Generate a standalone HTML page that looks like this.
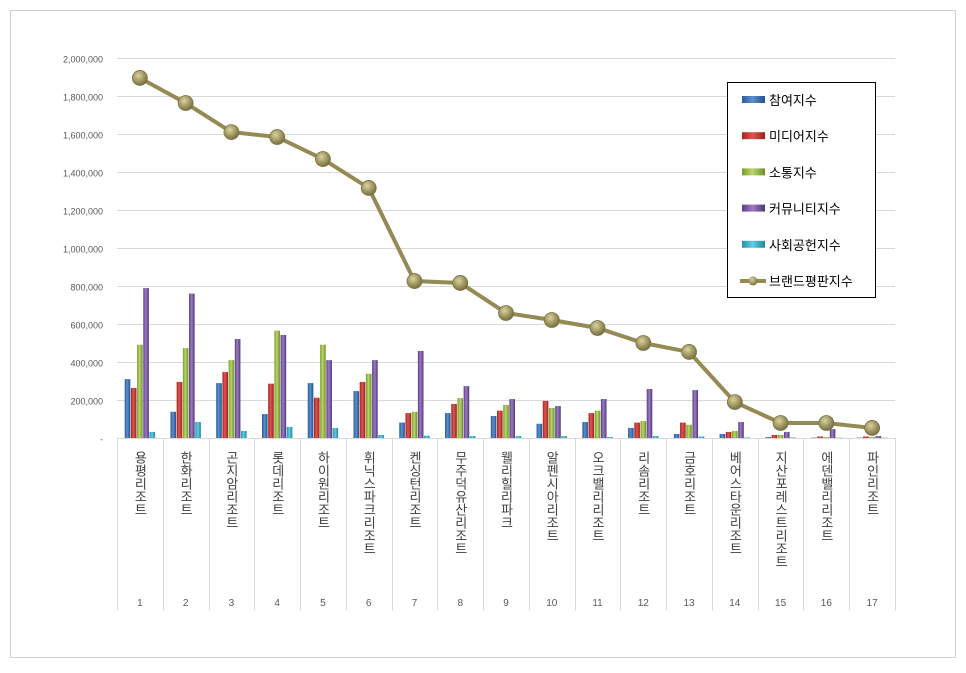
<!DOCTYPE html>
<html><head><meta charset="utf-8"><style>
body{margin:0;background:#fff;font-family:"Liberation Sans","Noto Sans CJK KR",sans-serif;}
</style></head><body>
<svg id="chart" width="966" height="668" xmlns="http://www.w3.org/2000/svg" font-family="Liberation Sans, Noto Sans CJK KR, sans-serif">
<defs>
<linearGradient id="gb" x1="0" x2="1"><stop offset="0" stop-color="#2a5a9a"/><stop offset=".45" stop-color="#5b8fd0"/><stop offset="1" stop-color="#23518c"/></linearGradient>
<linearGradient id="gr" x1="0" x2="1"><stop offset="0" stop-color="#a32420"/><stop offset=".45" stop-color="#e05450"/><stop offset="1" stop-color="#9a201c"/></linearGradient>
<linearGradient id="gg" x1="0" x2="1"><stop offset="0" stop-color="#7a9a2e"/><stop offset=".45" stop-color="#b9d66a"/><stop offset="1" stop-color="#6f8e28"/></linearGradient>
<linearGradient id="gp" x1="0" x2="1"><stop offset="0" stop-color="#5a3d82"/><stop offset=".45" stop-color="#9a7cc4"/><stop offset="1" stop-color="#513676"/></linearGradient>
<linearGradient id="gc" x1="0" x2="1"><stop offset="0" stop-color="#2790a8"/><stop offset=".45" stop-color="#5fcde2"/><stop offset="1" stop-color="#22869c"/></linearGradient>
<radialGradient id="gm" cx=".4" cy=".35" r=".7"><stop offset="0" stop-color="#d9d2a0"/><stop offset=".6" stop-color="#9b935c"/><stop offset="1" stop-color="#6f6a3c"/></radialGradient>
</defs>
<rect x="10.5" y="10.5" width="945" height="647" fill="#fff" stroke="#d0d0d0"/>
<g id="grid"></g><g id="bars"></g><g id="line"></g><g id="xaxis"></g>
<g>
<rect x="727.5" y="82.5" width="148" height="215" fill="#fff" stroke="#000"/>
<g id="legend"></g>
</g>
</svg>
<script>
const categories=["용평리조트","한화리조트","곤지암리조트","롯데리조트","하이원리조트","휘닉스파크리조트","켄싱턴리조트","무주덕유산리조트","웰리힐리파크","알펜시아리조트","오크밸리리조트","리솜리조트","금호리조트","베어스타운리조트","지산포레스트리조트","에덴밸리리조트","파인리조트"];
const ranks=[1,2,3,4,5,6,7,8,9,10,11,12,13,14,15,16,17];
const participation=[310000,138000,289000,126000,289000,247000,81000,131000,116000,75000,84000,53000,21000,21000,5000,2000,2000];
const media=[263000,295000,347000,286000,212000,295000,131000,179000,144000,195000,131000,81000,81000,32000,16000,8000,8000];
const communication=[491000,473000,410000,565000,491000,338000,138000,210000,174000,158000,144000,89000,70000,37000,16000,5000,5000];
const community=[789000,760000,521000,542000,410000,410000,458000,273000,205000,168000,205000,258000,252000,84000,32000,47000,10000];
const social=[32000,84000,37000,58000,53000,16000,12000,10000,10000,10000,5000,10000,8000,3000,3000,2000,2000];
const brand=[1895000,1763000,1610000,1584000,1468000,1316000,826000,816000,658000,621000,579000,500000,453000,189000,79000,79000,53000];
const yTicks=[0,200000,400000,600000,800000,1000000,1200000,1400000,1600000,1800000,2000000];
const seriesNames=["참여지수","미디어지수","소통지수","커뮤니티지수","사회공헌지수","브랜드평판지수"];
const NS="http://www.w3.org/2000/svg";
const x0=117,x1=895,y0=438,yTop=58;
const cw=(x1-x0)/categories.length;
const ys=v=>y0-v/2000000*(y0-yTop);
const xc=i=>x0+cw*(i+0.5);
function mk(t,a,p){const e=document.createElementNS(NS,t);for(const k in a)e.setAttribute(k,a[k]);p.appendChild(e);return e;}
const grid=document.getElementById('grid');
yTicks.forEach(v=>{
  const y=Math.round(ys(v))+.5;
  if(v>0){const l=mk('line',{x1:x0,x2:x1,y1:y,y2:y,stroke:'#d9d9d9'},grid);
  
  }
  const t=mk('text',{x:103,y:y+4,'text-anchor':'end','font-size':9,fill:'#595959'},grid);
  t.textContent=v===0?'-':v.toLocaleString('en-US');
  
  
});
const xa=document.getElementById('xaxis');
mk('line',{x1:x0,x2:x1,y1:y0+.5,y2:y0+.5,stroke:'#d9d9d9'},xa);
for(let i=0;i<=categories.length;i++){const x=Math.round(x0+cw*i)+.5;mk('line',{x1:x,x2:x,y1:y0,y2:610,stroke:'#d9d9d9'},xa);}
categories.forEach((c,i)=>{
  const t=mk('text',{x:xc(i),y:451,'font-size':13,fill:'#404040',style:'writing-mode:vertical-rl;text-orientation:upright'},xa);
  t.textContent=c;
  
  
  const n=mk('text',{x:xc(i),y:606,'text-anchor':'middle','font-size':10,fill:'#595959'},xa);
  n.textContent=ranks[i];
  
  
});
const series=[participation,media,communication,community,social];
const fills=['url(#gb)','url(#gr)','url(#gg)','url(#gp)','url(#gc)'];
const bw=6.2,bg=document.getElementById('bars');
series.forEach((s,si)=>{s.forEach((v,i)=>{
  const x=xc(i)-2.5*bw+si*bw+0.3;
  const r=mk('rect',{x:x,y:ys(v),width:bw-0.6,height:Math.max(0.5,y0-ys(v)),fill:fills[si]},bg);
  
  
});});
const lg=document.getElementById('line');
const p=mk('polyline',{points:brand.map((v,i)=>xc(i)+','+ys(v)).join(' '),fill:'none',stroke:'#948a54','stroke-width':4},lg);


brand.forEach((v,i)=>{const c=mk('circle',{cx:xc(i),cy:ys(v),r:7.5,fill:'url(#gm)',stroke:'#7a7244','stroke-width':.8},lg);

});
const leg=document.getElementById('legend');
seriesNames.forEach((n,i)=>{
  const y=100+i*36.2;
  if(i<5){mk('rect',{x:742,y:y-4,width:23,height:7,fill:fills[i]},leg);}
  else{mk('line',{x1:740,x2:766,y1:y,y2:y,stroke:'#948a54','stroke-width':4},leg);mk('circle',{cx:753,cy:y,r:4.5,fill:'url(#gm)'},leg);}
  const t=mk('text',{x:769,y:y+5,'font-size':13,fill:'#000'},leg);
  t.textContent=n;
  
  
});
</script>
</body></html>
